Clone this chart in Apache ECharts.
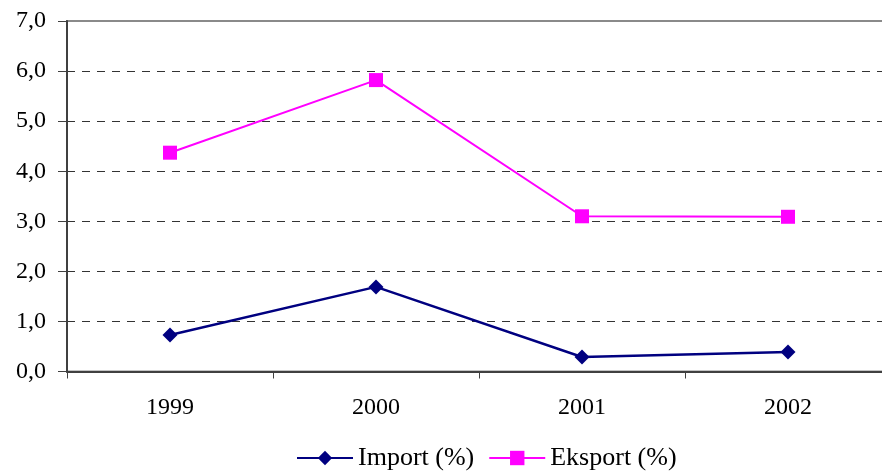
<!DOCTYPE html>
<html>
<head>
<meta charset="utf-8">
<script src="https://cdn.jsdelivr.net/npm/echarts@6/dist/echarts.min.js"></script>
<style>
  html, body { margin: 0; padding: 0; background: #fff; overflow: hidden; }
  /* the plot runs a little past the right edge of the picture */
  #chart { width: 891px; height: 474px; }
</style>
</head>
<body>
<div id="chart"></div>
<script>
// data
const years = ['1999', '2000', '2001', '2002'];
const importPct = [0.73, 1.69, 0.29, 0.39];
const eksportPct = [4.37, 5.82, 3.1, 3.09];

const font = 'Liberation Serif';

const chart = echarts.init(document.getElementById('chart'), null, { renderer: 'canvas' });

chart.setOption({
  backgroundColor: '#fff',
  animation: false,
  grid: {
    left: 67,
    top: 21,
    right: 0,
    height: 350.5,
    show: true,
    borderColor: '#8a8a8a',
    borderWidth: 2,
    backgroundColor: 'transparent',
  },
  legend: {
    left: 291,
    top: 440,
    itemWidth: 56,
    itemHeight: 18,
    itemGap: 14,
    textStyle: { fontFamily: font, fontSize: 26, color: '#000' },
    data: ['Import (%)', 'Eksport (%)'],
  },
  xAxis: {
    type: 'category',
    data: years,
    boundaryGap: true,
    axisLine: { lineStyle: { color: '#404040', width: 2 } },
    axisTick: { show: true, interval: 0, length: 7, lineStyle: { color: '#404040', width: 1 } },
    axisLabel: { fontFamily: font, fontSize: 24, color: '#000', margin: 24 },
    splitLine: { show: false },
  },
  yAxis: {
    type: 'value',
    min: 0,
    max: 7,
    interval: 1,
    axisLine: { show: true, lineStyle: { color: '#404040', width: 2 } },
    axisTick: { show: true, length: 9, lineStyle: { color: '#404040', width: 1 } },
    axisLabel: {
      fontFamily: font,
      fontSize: 24,
      color: '#000',
      margin: 21,
      formatter: (v) => v.toFixed(1).replace('.', ','),
    },
    splitLine: {
      show: true,
      showMinLine: false,
      showMaxLine: false,
      lineStyle: { color: '#333', type: [8, 7], width: 1 },
    },
  },
  series: [
    {
      name: 'Import (%)',
      type: 'line',
      data: importPct,
      symbol: 'diamond',
      symbolSize: 15,
      color: '#000080',
      lineStyle: { color: '#000080', width: 2.5 },
      itemStyle: { color: '#000080' },
    },
    {
      name: 'Eksport (%)',
      type: 'line',
      data: eksportPct,
      symbol: 'rect',
      symbolSize: 14,
      color: '#ff00ff',
      lineStyle: { color: '#ff00ff', width: 2 },
      itemStyle: { color: '#ff00ff' },
    },
  ],
});
</script>
</body>
</html>
